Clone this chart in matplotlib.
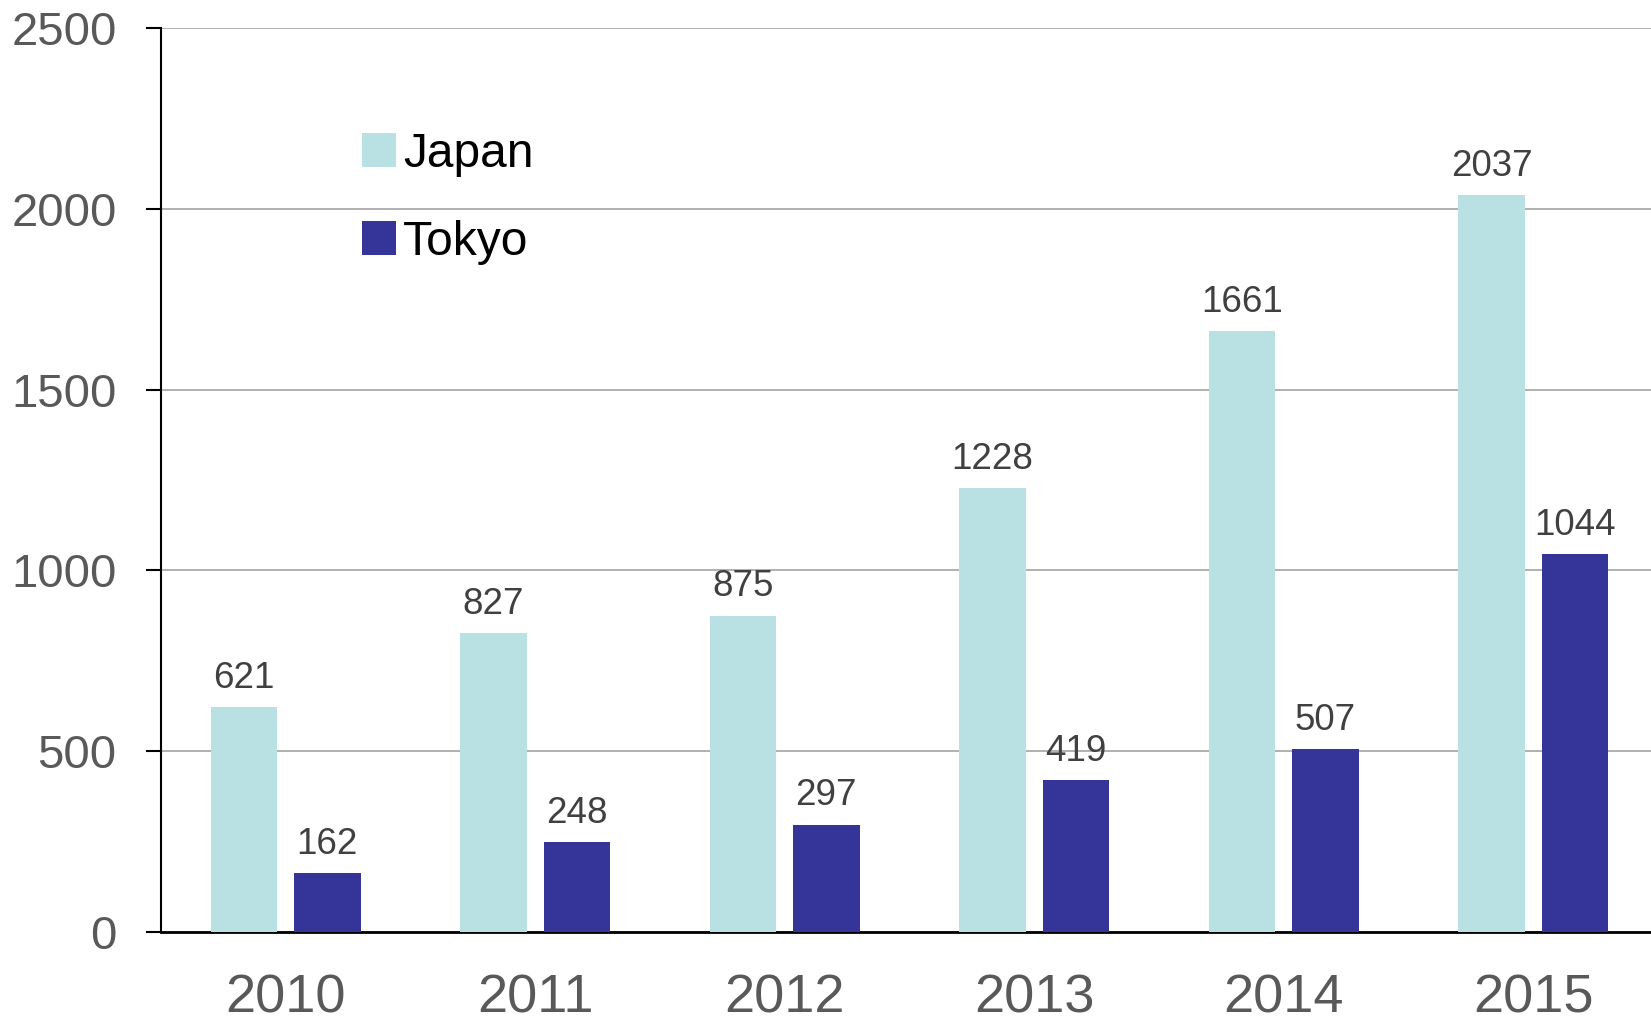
import numpy as np
import matplotlib.pyplot as plt
from matplotlib.patches import Patch

plt.rcParams['font.family'] = ['Liberation Sans', 'DejaVu Sans']

years = ['2010', '2011', '2012', '2013', '2014', '2015']
japan = [621, 827, 875, 1228, 1661, 2037]
tokyo = [162, 248, 297, 419, 507, 1044]

japan_color = '#b9e0e3'
tokyo_color = '#353599'

fig = plt.figure(figsize=(16.51, 10.18), dpi=100)
ax = fig.add_axes([0.0975, 0.0845, 0.9067, 0.888])

x = np.arange(len(years))
w = 0.266
off = 0.167
b1 = ax.bar(x - off, japan, w, color=japan_color, zorder=3)
b2 = ax.bar(x + off, tokyo, w, color=tokyo_color, zorder=3)

# value labels above bars
for bars, vals in [(b1, japan), (b2, tokyo)]:
    for rect, v in zip(bars, vals):
        ax.annotate(str(v), (rect.get_x() + rect.get_width() / 2, v),
                    xytext=(0, 8), textcoords='offset points',
                    ha='center', va='bottom', fontsize=26.5, color='#404040')

ax.set_xlim(-0.5, 5.5)
ax.set_ylim(0, 2500)
ax.set_yticks(np.arange(0, 2501, 500))
ax.set_xticks(x)
ax.set_xticklabels(years)

ax.yaxis.grid(True, color='#b0b0b0', linewidth=1.4, zorder=0)
ax.set_axisbelow(True)
for s in ['top', 'right']:
    ax.spines[s].set_visible(False)
ax.spines['left'].set_linewidth(1.5)
ax.spines['bottom'].set_linewidth(2)

ax.tick_params(axis='y', length=11, width=1.5, pad=21, labelsize=34,
               labelcolor='#595959', color='black')
ax.tick_params(axis='x', length=0, pad=30, labelsize=39, labelcolor='#595959')

handles = [Patch(facecolor=japan_color, label='Japan'),
           Patch(facecolor=tokyo_color, label='Tokyo')]
leg = ax.legend(handles=handles, loc='upper left',
                bbox_to_anchor=(362 / 1651, 1 - 132 / 1018),
                bbox_transform=fig.transFigure, frameon=False, fontsize=34.5,
                handlelength=0.71, handleheight=0.71, handletextpad=0.15,
                labelspacing=0.89, borderpad=0, borderaxespad=0)

fig.savefig('out.png', dpi=100)
